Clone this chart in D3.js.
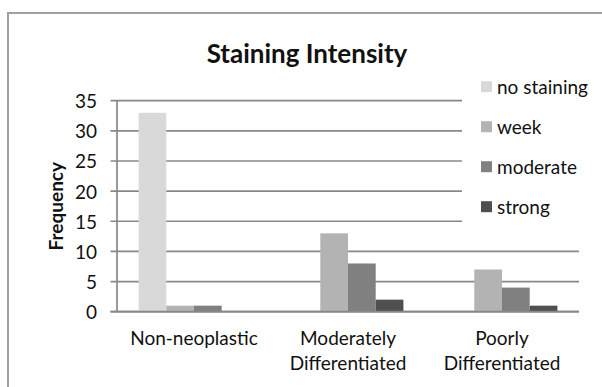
<!DOCTYPE html>
<html>
<head>
<meta charset="utf-8">
<script src="https://cdn.jsdelivr.net/npm/d3@7"></script>
<style>
    body { margin: 0; background: #fff; }
    svg { display: block; }
</style>
</head>
<body>
<svg id="chart"></svg>
<script>
// data ---------------------------------------------
const categories = ['Non-neoplastic', 'Moderately Differentiated', 'Poorly Differentiated'];
const seriesNames = ['no staining', 'week', 'moderate', 'strong'];
const noStaining = [33, 0, 0];
const week = [1, 13, 7];
const moderate = [1, 8, 4];
const strong = [0, 2, 1];
const yTicks = [0, 5, 10, 15, 20, 25, 30, 35];

const seriesValues = [noStaining, week, moderate, strong];
const colors = ['#d9d9d9', '#b3b3b3', '#808080', '#4f4f4f'];

const width = 602;
const height = 387;
const font = 'Lato, "Liberation Sans", sans-serif';
const labelSize = '19px';

const plot = {
    left: 117,
    right: 579,
    top: 100.7,
    bottom: 311.7,
};

const svg = d3.select('svg#chart')
    .attr('width', width)
    .attr('height', height);

// outer chart border (cropped at right and bottom)
svg.append('rect')
    .attr('x', 8)
    .attr('y', 13)
    .attr('width', 620)
    .attr('height', 420)
    .attr('fill', '#fff')
    .attr('stroke', '#a0a0a0')
    .attr('stroke-width', 2);

const x = d3.scaleBand()
    .domain(categories)
    .range([plot.left, plot.right]);

const xInner = d3.scaleBand()
    .domain(seriesNames)
    .range([0, x.bandwidth()])
    .paddingOuter(0.78);

const y = d3.scaleLinear()
    .domain([0, 35])
    .range([plot.bottom, plot.top]);

// gridlines + ticks
svg.append('g')
    .selectAll('line')
    .data(yTicks).enter()
    .append('line')
    .attr('x1', plot.left - 6.5)
    .attr('x2', plot.right)
    .attr('y1', d => y(d))
    .attr('y2', d => y(d))
    .attr('stroke', '#888')
    .attr('stroke-width', 1.7);

// y axis line
svg.append('line')
    .attr('x1', plot.left)
    .attr('x2', plot.left)
    .attr('y1', y(35))
    .attr('y2', y(0))
    .attr('stroke', '#888')
    .attr('stroke-width', 1.7);

// bars
const groups = svg.append('g')
    .selectAll('g')
    .data(seriesNames).enter()
    .append('g')
    .attr('fill', (d, i) => colors[i]);

groups.selectAll('rect')
    .data((s, i) => categories.map((c, j) => ({ cat: c, series: s, value: seriesValues[i][j] })))
    .enter()
    .append('rect')
    .attr('x', d => x(d.cat) + xInner(d.series))
    .attr('width', xInner.bandwidth())
    .attr('y', d => y(d.value))
    .attr('height', d => y(0) - y(d.value));

// redraw baseline over bars
svg.append('line')
    .attr('x1', plot.left - 6.5)
    .attr('x2', plot.right)
    .attr('y1', y(0))
    .attr('y2', y(0))
    .attr('stroke', '#888')
    .attr('stroke-width', 1.7);

// y tick labels
svg.append('g')
    .selectAll('text')
    .data(yTicks).enter()
    .append('text')
    .text(d => d)
    .attr('x', 97)
    .attr('y', d => y(d))
    .attr('text-anchor', 'end')
    .attr('dominant-baseline', 'central')
    .style('font-family', font)
    .style('font-size', labelSize)
    .attr('fill', '#111');

// category labels (wrapped on spaces)
svg.append('g')
    .selectAll('text')
    .data(categories).enter()
    .append('text')
    .attr('text-anchor', 'middle')
    .style('font-family', font)
    .style('font-size', labelSize)
    .attr('fill', '#111')
    .each(function (d) {
        const lines = d.split(' ');
        d3.select(this).selectAll('tspan')
            .data(lines).enter()
            .append('tspan')
            .attr('x', x(d) + x.bandwidth() / 2)
            .attr('y', (l, i) => 345 + i * 25)
            .text(l => l);
    });

// y axis title
svg.append('text')
    .text('Frequency')
    .attr('transform', `translate(55, ${(plot.top + plot.bottom) / 2}) rotate(-90)`)
    .attr('text-anchor', 'middle')
    .attr('dominant-baseline', 'central')
    .style('font-family', font)
    .style('font-size', labelSize)
    .style('font-weight', 'bold')
    .attr('fill', '#111');

// chart title
svg.append('text')
    .text('Staining Intensity')
    .attr('x', 307)
    .attr('y', 63)
    .attr('text-anchor', 'middle')
    .style('font-family', font)
    .style('font-size', '26px')
    .style('font-weight', 'bold')
    .attr('fill', '#111');

// legend (sits over the gridlines)
const legend = svg.append('g');
legend.append('rect')
    .attr('x', 462)
    .attr('y', 70)
    .attr('width', 138)
    .attr('height', 170)
    .attr('fill', '#fff');

const items = legend.selectAll('g')
    .data(seriesNames).enter()
    .append('g')
    .attr('transform', (d, i) => `translate(481, ${86.7 + i * 40})`);
items.append('rect')
    .attr('x', 0)
    .attr('y', -5.5)
    .attr('width', 11)
    .attr('height', 11)
    .attr('fill', (d, i) => colors[i]);
items.append('text')
    .text(d => d)
    .attr('x', 16)
    .attr('y', 0)
    .attr('dominant-baseline', 'central')
    .style('font-family', font)
    .style('font-size', labelSize)
    .attr('fill', '#111');
</script>
</body>
</html>
